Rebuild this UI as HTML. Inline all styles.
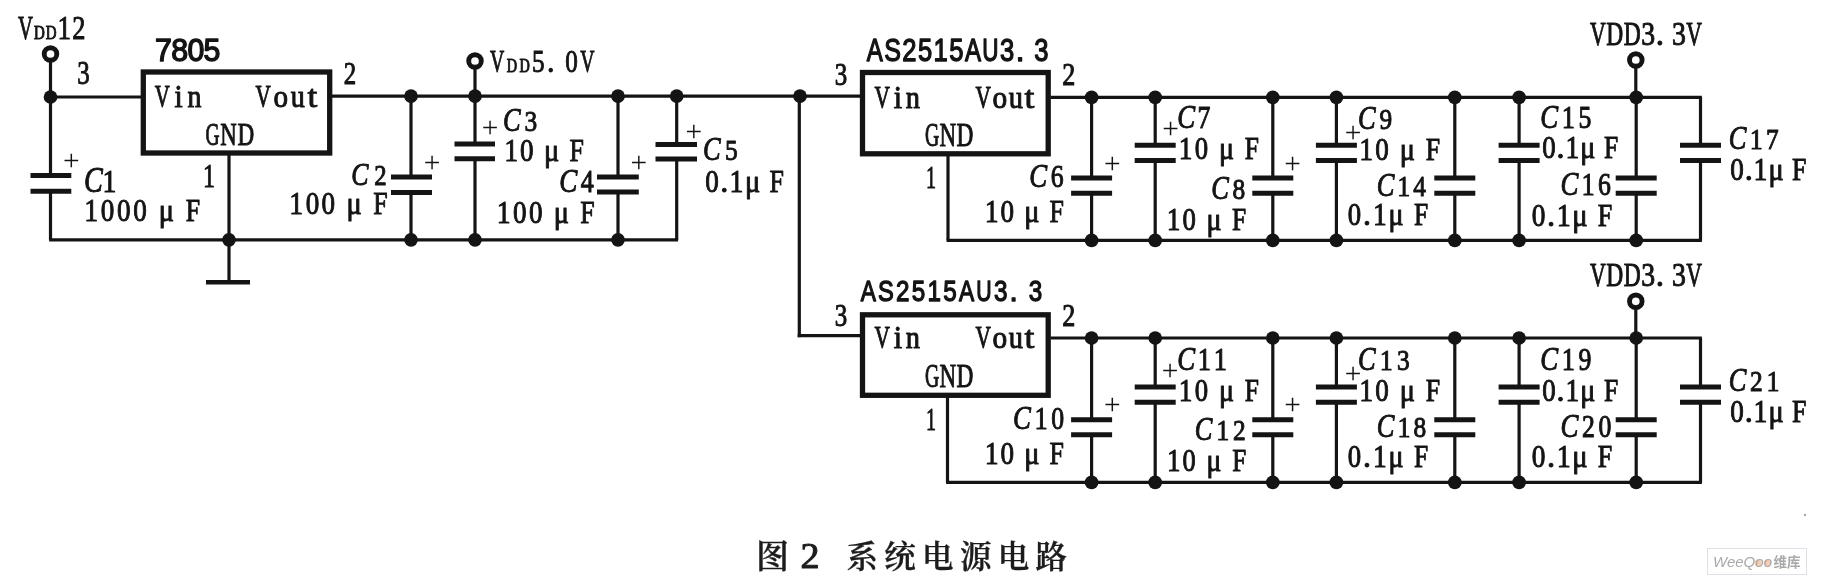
<!DOCTYPE html>
<html lang="zh-CN">
<head>
<meta charset="utf-8">
<title>图2 系统电源电路</title>
<style>
html,body{margin:0;padding:0;background:#fff;}
body{width:1826px;height:581px;overflow:hidden;}
svg{display:block;filter:blur(0.35px);}
svg text{font-family:"Liberation Serif", serif;fill:#141414;stroke:#141414;stroke-width:1.0;stroke-linejoin:round;white-space:pre;}
svg text.b{font-family:"Liberation Sans", "Noto Sans CJK SC", sans-serif;font-weight:normal;stroke-width:1.35;}
svg text.pl{stroke:none;}
svg text.cj{font-family:"Liberation Serif", "Noto Serif CJK SC", serif;font-weight:600;fill:#1c1c1c;stroke:#1c1c1c;stroke-width:0.35;}
svg text.wm{font-family:"Liberation Sans", "Noto Sans CJK SC", sans-serif;fill:#a9a9a9;stroke:none;}
</style>
</head>
<body>
<svg width="1826" height="581" viewBox="0 0 1826 581" stroke="#141414" fill="none">
<circle cx="50.5" cy="54" r="6.3" fill="#fff" stroke-width="4.9"/>
<line x1="50.5" y1="61" x2="50.5" y2="100" stroke-width="3.2" stroke-linecap="butt"/>
<line x1="50.5" y1="97" x2="50.5" y2="175.6" stroke-width="3.2" stroke-linecap="butt"/>
<line x1="50.5" y1="191.2" x2="50.5" y2="239.8" stroke-width="3.2" stroke-linecap="butt"/>
<line x1="30.5" y1="175.6" x2="71.3" y2="175.6" stroke-width="5" stroke-linecap="butt"/>
<line x1="30.5" y1="191.2" x2="71.3" y2="191.2" stroke-width="5" stroke-linecap="butt"/>
<circle cx="50.5" cy="97" r="6.85" fill="#141414" stroke="none"/>
<line x1="50.5" y1="97" x2="141" y2="97" stroke-width="3.2" stroke-linecap="butt"/>
<rect x="143.3" y="72" width="186.4" height="81" fill="none" stroke-width="5.3"/>
<line x1="332" y1="96.2" x2="860.5" y2="96.2" stroke-width="3.2" stroke-linecap="butt"/>
<line x1="49.1" y1="239.8" x2="678.1" y2="239.8" stroke-width="3.2" stroke-linecap="butt"/>
<line x1="229" y1="155" x2="229" y2="282" stroke-width="3.2" stroke-linecap="butt"/>
<line x1="206" y1="282.2" x2="250" y2="282.2" stroke-width="4.6" stroke-linecap="butt"/>
<circle cx="229" cy="239.8" r="6.85" fill="#141414" stroke="none"/>
<line x1="411" y1="96" x2="411" y2="177" stroke-width="3.2" stroke-linecap="butt"/>
<line x1="411" y1="192.6" x2="411" y2="239.8" stroke-width="3.2" stroke-linecap="butt"/>
<line x1="391" y1="177" x2="432" y2="177" stroke-width="5" stroke-linecap="butt"/>
<line x1="391" y1="192.6" x2="432" y2="192.6" stroke-width="5" stroke-linecap="butt"/>
<circle cx="411" cy="96.2" r="6.85" fill="#141414" stroke="none"/>
<circle cx="411" cy="239.8" r="6.85" fill="#141414" stroke="none"/>
<circle cx="475" cy="61" r="6.3" fill="#fff" stroke-width="4.9"/>
<line x1="475" y1="68" x2="475" y2="96" stroke-width="3.2" stroke-linecap="butt"/>
<line x1="475" y1="96" x2="475" y2="144" stroke-width="3.2" stroke-linecap="butt"/>
<line x1="475" y1="158.8" x2="475" y2="239.8" stroke-width="3.2" stroke-linecap="butt"/>
<line x1="454.5" y1="144" x2="495" y2="144" stroke-width="5" stroke-linecap="butt"/>
<line x1="454.5" y1="158.8" x2="495" y2="158.8" stroke-width="5" stroke-linecap="butt"/>
<circle cx="475" cy="96.2" r="6.85" fill="#141414" stroke="none"/>
<circle cx="475" cy="239.8" r="6.85" fill="#141414" stroke="none"/>
<line x1="618" y1="96" x2="618" y2="177" stroke-width="3.2" stroke-linecap="butt"/>
<line x1="618" y1="192" x2="618" y2="239.8" stroke-width="3.2" stroke-linecap="butt"/>
<line x1="597" y1="177" x2="638.8" y2="177" stroke-width="5" stroke-linecap="butt"/>
<line x1="597" y1="192" x2="638.8" y2="192" stroke-width="5" stroke-linecap="butt"/>
<circle cx="618" cy="96.2" r="6.85" fill="#141414" stroke="none"/>
<circle cx="618" cy="239.8" r="6.85" fill="#141414" stroke="none"/>
<line x1="676.7" y1="96" x2="676.7" y2="144.5" stroke-width="3.2" stroke-linecap="butt"/>
<line x1="676.7" y1="159" x2="676.7" y2="239.8" stroke-width="3.2" stroke-linecap="butt"/>
<line x1="655.5" y1="144.5" x2="697" y2="144.5" stroke-width="5" stroke-linecap="butt"/>
<line x1="655.5" y1="159" x2="697" y2="159" stroke-width="5" stroke-linecap="butt"/>
<circle cx="676.7" cy="96.2" r="6.85" fill="#141414" stroke="none"/>
<circle cx="800" cy="96.2" r="6.85" fill="#141414" stroke="none"/>
<line x1="799.3" y1="96" x2="799.3" y2="337.2" stroke-width="3.2" stroke-linecap="butt"/>
<line x1="797.7" y1="335.6" x2="860.5" y2="335.6" stroke-width="3.2" stroke-linecap="butt"/>
<rect x="862.5" y="72.5" width="185.7" height="81.3" fill="none" stroke-width="5.3"/>
<line x1="1050.5" y1="97.3" x2="1701.9" y2="97.3" stroke-width="3.2" stroke-linecap="butt"/>
<line x1="946.6" y1="240.4" x2="1701.9" y2="240.4" stroke-width="3.2" stroke-linecap="butt"/>
<line x1="948" y1="155.8" x2="948" y2="240.4" stroke-width="3.2" stroke-linecap="butt"/>
<line x1="1091.6" y1="97.3" x2="1091.6" y2="178.1" stroke-width="3.2" stroke-linecap="butt"/>
<line x1="1091.6" y1="193.2" x2="1091.6" y2="240.4" stroke-width="3.2" stroke-linecap="butt"/>
<line x1="1071.1" y1="178.1" x2="1112.1" y2="178.1" stroke-width="5" stroke-linecap="butt"/>
<line x1="1071.1" y1="193.2" x2="1112.1" y2="193.2" stroke-width="5" stroke-linecap="butt"/>
<circle cx="1091.6" cy="97.3" r="6.85" fill="#141414" stroke="none"/>
<circle cx="1091.6" cy="240.4" r="6.85" fill="#141414" stroke="none"/>
<line x1="1155.2" y1="97.3" x2="1155.2" y2="145.3" stroke-width="3.2" stroke-linecap="butt"/>
<line x1="1155.2" y1="160.6" x2="1155.2" y2="240.4" stroke-width="3.2" stroke-linecap="butt"/>
<line x1="1134.7" y1="145.3" x2="1175.7" y2="145.3" stroke-width="5" stroke-linecap="butt"/>
<line x1="1134.7" y1="160.6" x2="1175.7" y2="160.6" stroke-width="5" stroke-linecap="butt"/>
<circle cx="1155.2" cy="97.3" r="6.85" fill="#141414" stroke="none"/>
<circle cx="1155.2" cy="240.4" r="6.85" fill="#141414" stroke="none"/>
<line x1="1272.8" y1="97.3" x2="1272.8" y2="178.1" stroke-width="3.2" stroke-linecap="butt"/>
<line x1="1272.8" y1="193.2" x2="1272.8" y2="240.4" stroke-width="3.2" stroke-linecap="butt"/>
<line x1="1252.3" y1="178.1" x2="1293.3" y2="178.1" stroke-width="5" stroke-linecap="butt"/>
<line x1="1252.3" y1="193.2" x2="1293.3" y2="193.2" stroke-width="5" stroke-linecap="butt"/>
<circle cx="1272.8" cy="97.3" r="6.85" fill="#141414" stroke="none"/>
<circle cx="1272.8" cy="240.4" r="6.85" fill="#141414" stroke="none"/>
<line x1="1336.4" y1="97.3" x2="1336.4" y2="145.3" stroke-width="3.2" stroke-linecap="butt"/>
<line x1="1336.4" y1="160.6" x2="1336.4" y2="240.4" stroke-width="3.2" stroke-linecap="butt"/>
<line x1="1315.9" y1="145.3" x2="1356.9" y2="145.3" stroke-width="5" stroke-linecap="butt"/>
<line x1="1315.9" y1="160.6" x2="1356.9" y2="160.6" stroke-width="5" stroke-linecap="butt"/>
<circle cx="1336.4" cy="97.3" r="6.85" fill="#141414" stroke="none"/>
<circle cx="1336.4" cy="240.4" r="6.85" fill="#141414" stroke="none"/>
<line x1="1454.8" y1="97.3" x2="1454.8" y2="178.1" stroke-width="3.2" stroke-linecap="butt"/>
<line x1="1454.8" y1="193.2" x2="1454.8" y2="240.4" stroke-width="3.2" stroke-linecap="butt"/>
<line x1="1434.3" y1="178.1" x2="1475.3" y2="178.1" stroke-width="5" stroke-linecap="butt"/>
<line x1="1434.3" y1="193.2" x2="1475.3" y2="193.2" stroke-width="5" stroke-linecap="butt"/>
<circle cx="1454.8" cy="97.3" r="6.85" fill="#141414" stroke="none"/>
<circle cx="1454.8" cy="240.4" r="6.85" fill="#141414" stroke="none"/>
<line x1="1519.1" y1="97.3" x2="1519.1" y2="145.3" stroke-width="3.2" stroke-linecap="butt"/>
<line x1="1519.1" y1="160.6" x2="1519.1" y2="240.4" stroke-width="3.2" stroke-linecap="butt"/>
<line x1="1498.6" y1="145.3" x2="1539.6" y2="145.3" stroke-width="5" stroke-linecap="butt"/>
<line x1="1498.6" y1="160.6" x2="1539.6" y2="160.6" stroke-width="5" stroke-linecap="butt"/>
<circle cx="1519.1" cy="97.3" r="6.85" fill="#141414" stroke="none"/>
<circle cx="1519.1" cy="240.4" r="6.85" fill="#141414" stroke="none"/>
<line x1="1636.2" y1="97.3" x2="1636.2" y2="178.1" stroke-width="3.2" stroke-linecap="butt"/>
<line x1="1636.2" y1="193.2" x2="1636.2" y2="240.4" stroke-width="3.2" stroke-linecap="butt"/>
<line x1="1615.7" y1="178.1" x2="1656.7" y2="178.1" stroke-width="5" stroke-linecap="butt"/>
<line x1="1615.7" y1="193.2" x2="1656.7" y2="193.2" stroke-width="5" stroke-linecap="butt"/>
<circle cx="1636.2" cy="97.3" r="6.85" fill="#141414" stroke="none"/>
<circle cx="1636.2" cy="240.4" r="6.85" fill="#141414" stroke="none"/>
<line x1="1700.5" y1="97.3" x2="1700.5" y2="145.3" stroke-width="3.2" stroke-linecap="butt"/>
<line x1="1700.5" y1="160.6" x2="1700.5" y2="240.4" stroke-width="3.2" stroke-linecap="butt"/>
<line x1="1680" y1="145.3" x2="1721" y2="145.3" stroke-width="5" stroke-linecap="butt"/>
<line x1="1680" y1="160.6" x2="1721" y2="160.6" stroke-width="5" stroke-linecap="butt"/>
<circle cx="1635.8" cy="60" r="6.3" fill="#fff" stroke-width="4.9"/>
<line x1="1635.8" y1="67" x2="1635.8" y2="97.3" stroke-width="3.2" stroke-linecap="butt"/>
<rect x="862.5" y="314.8" width="185.7" height="80.5" fill="none" stroke-width="5.3"/>
<line x1="1050.5" y1="338" x2="1701.9" y2="338" stroke-width="3.2" stroke-linecap="butt"/>
<line x1="946.1" y1="482.4" x2="1701.9" y2="482.4" stroke-width="3.2" stroke-linecap="butt"/>
<line x1="947.5" y1="397.3" x2="947.5" y2="482.4" stroke-width="3.2" stroke-linecap="butt"/>
<line x1="1091.6" y1="338" x2="1091.6" y2="419.7" stroke-width="3.2" stroke-linecap="butt"/>
<line x1="1091.6" y1="434.8" x2="1091.6" y2="482.4" stroke-width="3.2" stroke-linecap="butt"/>
<line x1="1071.1" y1="419.7" x2="1112.1" y2="419.7" stroke-width="5" stroke-linecap="butt"/>
<line x1="1071.1" y1="434.8" x2="1112.1" y2="434.8" stroke-width="5" stroke-linecap="butt"/>
<circle cx="1091.6" cy="338" r="6.85" fill="#141414" stroke="none"/>
<circle cx="1091.6" cy="482.4" r="6.85" fill="#141414" stroke="none"/>
<line x1="1155.2" y1="338" x2="1155.2" y2="386.9" stroke-width="3.2" stroke-linecap="butt"/>
<line x1="1155.2" y1="402.2" x2="1155.2" y2="482.4" stroke-width="3.2" stroke-linecap="butt"/>
<line x1="1134.7" y1="386.9" x2="1175.7" y2="386.9" stroke-width="5" stroke-linecap="butt"/>
<line x1="1134.7" y1="402.2" x2="1175.7" y2="402.2" stroke-width="5" stroke-linecap="butt"/>
<circle cx="1155.2" cy="338" r="6.85" fill="#141414" stroke="none"/>
<circle cx="1155.2" cy="482.4" r="6.85" fill="#141414" stroke="none"/>
<line x1="1272.8" y1="338" x2="1272.8" y2="419.7" stroke-width="3.2" stroke-linecap="butt"/>
<line x1="1272.8" y1="434.8" x2="1272.8" y2="482.4" stroke-width="3.2" stroke-linecap="butt"/>
<line x1="1252.3" y1="419.7" x2="1293.3" y2="419.7" stroke-width="5" stroke-linecap="butt"/>
<line x1="1252.3" y1="434.8" x2="1293.3" y2="434.8" stroke-width="5" stroke-linecap="butt"/>
<circle cx="1272.8" cy="338" r="6.85" fill="#141414" stroke="none"/>
<circle cx="1272.8" cy="482.4" r="6.85" fill="#141414" stroke="none"/>
<line x1="1336.4" y1="338" x2="1336.4" y2="386.9" stroke-width="3.2" stroke-linecap="butt"/>
<line x1="1336.4" y1="402.2" x2="1336.4" y2="482.4" stroke-width="3.2" stroke-linecap="butt"/>
<line x1="1315.9" y1="386.9" x2="1356.9" y2="386.9" stroke-width="5" stroke-linecap="butt"/>
<line x1="1315.9" y1="402.2" x2="1356.9" y2="402.2" stroke-width="5" stroke-linecap="butt"/>
<circle cx="1336.4" cy="338" r="6.85" fill="#141414" stroke="none"/>
<circle cx="1336.4" cy="482.4" r="6.85" fill="#141414" stroke="none"/>
<line x1="1454.8" y1="338" x2="1454.8" y2="419.7" stroke-width="3.2" stroke-linecap="butt"/>
<line x1="1454.8" y1="434.8" x2="1454.8" y2="482.4" stroke-width="3.2" stroke-linecap="butt"/>
<line x1="1434.3" y1="419.7" x2="1475.3" y2="419.7" stroke-width="5" stroke-linecap="butt"/>
<line x1="1434.3" y1="434.8" x2="1475.3" y2="434.8" stroke-width="5" stroke-linecap="butt"/>
<circle cx="1454.8" cy="338" r="6.85" fill="#141414" stroke="none"/>
<circle cx="1454.8" cy="482.4" r="6.85" fill="#141414" stroke="none"/>
<line x1="1519.1" y1="338" x2="1519.1" y2="386.9" stroke-width="3.2" stroke-linecap="butt"/>
<line x1="1519.1" y1="402.2" x2="1519.1" y2="482.4" stroke-width="3.2" stroke-linecap="butt"/>
<line x1="1498.6" y1="386.9" x2="1539.6" y2="386.9" stroke-width="5" stroke-linecap="butt"/>
<line x1="1498.6" y1="402.2" x2="1539.6" y2="402.2" stroke-width="5" stroke-linecap="butt"/>
<circle cx="1519.1" cy="338" r="6.85" fill="#141414" stroke="none"/>
<circle cx="1519.1" cy="482.4" r="6.85" fill="#141414" stroke="none"/>
<line x1="1636.2" y1="338" x2="1636.2" y2="419.7" stroke-width="3.2" stroke-linecap="butt"/>
<line x1="1636.2" y1="434.8" x2="1636.2" y2="482.4" stroke-width="3.2" stroke-linecap="butt"/>
<line x1="1615.7" y1="419.7" x2="1656.7" y2="419.7" stroke-width="5" stroke-linecap="butt"/>
<line x1="1615.7" y1="434.8" x2="1656.7" y2="434.8" stroke-width="5" stroke-linecap="butt"/>
<circle cx="1636.2" cy="338" r="6.85" fill="#141414" stroke="none"/>
<circle cx="1636.2" cy="482.4" r="6.85" fill="#141414" stroke="none"/>
<line x1="1700.5" y1="338" x2="1700.5" y2="386.9" stroke-width="3.2" stroke-linecap="butt"/>
<line x1="1700.5" y1="402.2" x2="1700.5" y2="482.4" stroke-width="3.2" stroke-linecap="butt"/>
<line x1="1680" y1="386.9" x2="1721" y2="386.9" stroke-width="5" stroke-linecap="butt"/>
<line x1="1680" y1="402.2" x2="1721" y2="402.2" stroke-width="5" stroke-linecap="butt"/>
<circle cx="1635.8" cy="301.3" r="6.3" fill="#fff" stroke-width="4.9"/>
<line x1="1635.8" y1="308.3" x2="1635.8" y2="338" stroke-width="3.2" stroke-linecap="butt"/>
<text y="39.45" font-size="34.16"><tspan x="18.00" textLength="14.98" lengthAdjust="spacingAndGlyphs">V</tspan><tspan x="33.99" textLength="10.80" lengthAdjust="spacingAndGlyphs" font-size="19.13">D</tspan><tspan x="45.80" textLength="10.80" lengthAdjust="spacingAndGlyphs" font-size="19.13">D</tspan><tspan x="57.61" textLength="13.51" lengthAdjust="spacingAndGlyphs">1</tspan><tspan x="72.14" textLength="13.20" lengthAdjust="spacingAndGlyphs">2</tspan></text>
<text y="83.57" font-size="33.00"><tspan x="77.33" textLength="12.44" lengthAdjust="spacingAndGlyphs">3</tspan></text>
<text class="b" style="stroke-width:1.45" y="61.16" font-size="32.19"><tspan x="155.10" textLength="16.88" lengthAdjust="spacingAndGlyphs">7</tspan><tspan x="171.28" textLength="16.88" lengthAdjust="spacingAndGlyphs">8</tspan><tspan x="187.45" textLength="16.88" lengthAdjust="spacingAndGlyphs">0</tspan><tspan x="203.62" textLength="16.88" lengthAdjust="spacingAndGlyphs">5</tspan></text>
<text y="107.10" font-size="31.55"><tspan x="154.70" textLength="15.04" lengthAdjust="spacingAndGlyphs">V</tspan><tspan x="174.60" textLength="8.15" lengthAdjust="spacingAndGlyphs">i</tspan><tspan x="187.62" textLength="13.88" lengthAdjust="spacingAndGlyphs">n</tspan></text>
<text y="107.39" font-size="31.98"><tspan x="255.50" textLength="15.24" lengthAdjust="spacingAndGlyphs">V</tspan><tspan x="273.49" textLength="14.55" lengthAdjust="spacingAndGlyphs">o</tspan><tspan x="290.79" textLength="14.07" lengthAdjust="spacingAndGlyphs">u</tspan><tspan x="307.61" textLength="9.77" lengthAdjust="spacingAndGlyphs">t</tspan></text>
<text y="144.58" font-size="32.56"><tspan x="205.39" textLength="14.11" lengthAdjust="spacingAndGlyphs">G</tspan><tspan x="220.32" textLength="16.46" lengthAdjust="spacingAndGlyphs">N</tspan><tspan x="237.60" textLength="16.70" lengthAdjust="spacingAndGlyphs">D</tspan></text>
<text y="84.10" font-size="31.55"><tspan x="343.72" textLength="12.44" lengthAdjust="spacingAndGlyphs">2</tspan></text>
<text y="191.68" font-size="32.27"><tspan x="83.98" textLength="18.77" lengthAdjust="spacingAndGlyphs" font-style="italic" font-size="35.18">C</tspan><tspan x="102.52" textLength="13.88" lengthAdjust="spacingAndGlyphs">1</tspan></text>
<text y="220.58" font-size="32.27"><tspan x="84.33" textLength="13.88" lengthAdjust="spacingAndGlyphs">1</tspan><tspan x="100.85" textLength="13.55" lengthAdjust="spacingAndGlyphs">0</tspan><tspan x="117.04" textLength="13.55" lengthAdjust="spacingAndGlyphs">0</tspan><tspan x="133.23" textLength="13.55" lengthAdjust="spacingAndGlyphs">0</tspan> <tspan x="158.67" textLength="15.23" lengthAdjust="spacingAndGlyphs">μ</tspan> <tspan x="185.78" textLength="14.36" lengthAdjust="spacingAndGlyphs">F</tspan></text>
<text y="186.57" font-size="32.85"><tspan x="203.12" textLength="12.00" lengthAdjust="spacingAndGlyphs">1</tspan></text>
<text y="184.63" font-size="29.51"><tspan x="351.29" textLength="17.16" lengthAdjust="spacingAndGlyphs" font-style="italic" font-size="32.17">C</tspan><tspan x="374.27" textLength="12.39" lengthAdjust="spacingAndGlyphs">2</tspan></text>
<text y="214.08" font-size="32.27"><tspan x="289.33" textLength="13.88" lengthAdjust="spacingAndGlyphs">1</tspan><tspan x="305.63" textLength="13.55" lengthAdjust="spacingAndGlyphs">0</tspan><tspan x="321.60" textLength="13.55" lengthAdjust="spacingAndGlyphs">0</tspan> <tspan x="346.61" textLength="15.23" lengthAdjust="spacingAndGlyphs">μ</tspan> <tspan x="373.28" textLength="14.36" lengthAdjust="spacingAndGlyphs">F</tspan></text>
<text y="71.78" font-size="32.56"><tspan x="490.10" textLength="14.28" lengthAdjust="spacingAndGlyphs">V</tspan><tspan x="506.74" textLength="10.30" lengthAdjust="spacingAndGlyphs" font-size="18.24">D</tspan><tspan x="519.40" textLength="10.30" lengthAdjust="spacingAndGlyphs" font-size="18.24">D</tspan><tspan x="532.05" textLength="12.58" lengthAdjust="spacingAndGlyphs">5</tspan><tspan x="547.00" textLength="7.49" lengthAdjust="spacingAndGlyphs">.</tspan> <tspan x="565.35" textLength="12.58" lengthAdjust="spacingAndGlyphs">0</tspan><tspan x="580.29" textLength="14.28" lengthAdjust="spacingAndGlyphs">V</tspan></text>
<text y="131.12" font-size="30.24"><tspan x="503.06" textLength="17.59" lengthAdjust="spacingAndGlyphs" font-style="italic" font-size="32.96">C</tspan><tspan x="524.59" textLength="12.70" lengthAdjust="spacingAndGlyphs">3</tspan></text>
<text y="160.58" font-size="32.27"><tspan x="504.33" textLength="13.88" lengthAdjust="spacingAndGlyphs">1</tspan><tspan x="520.08" textLength="13.55" lengthAdjust="spacingAndGlyphs">0</tspan> <tspan x="544.00" textLength="15.23" lengthAdjust="spacingAndGlyphs">μ</tspan> <tspan x="569.58" textLength="14.36" lengthAdjust="spacingAndGlyphs">F</tspan></text>
<text y="191.60" font-size="30.96"><tspan x="559.23" textLength="18.01" lengthAdjust="spacingAndGlyphs" font-style="italic" font-size="33.75">C</tspan><tspan x="580.70" textLength="13.01" lengthAdjust="spacingAndGlyphs">4</tspan></text>
<text y="222.58" font-size="32.27"><tspan x="496.83" textLength="13.88" lengthAdjust="spacingAndGlyphs">1</tspan><tspan x="513.04" textLength="13.55" lengthAdjust="spacingAndGlyphs">0</tspan><tspan x="528.93" textLength="13.55" lengthAdjust="spacingAndGlyphs">0</tspan> <tspan x="553.77" textLength="15.23" lengthAdjust="spacingAndGlyphs">μ</tspan> <tspan x="580.28" textLength="14.36" lengthAdjust="spacingAndGlyphs">F</tspan></text>
<text y="160.12" font-size="30.24"><tspan x="703.06" textLength="17.59" lengthAdjust="spacingAndGlyphs" font-style="italic" font-size="32.96">C</tspan><tspan x="725.09" textLength="12.70" lengthAdjust="spacingAndGlyphs">5</tspan></text>
<text y="191.58" font-size="32.27"><tspan x="705.15" textLength="13.55" lengthAdjust="spacingAndGlyphs">0</tspan><tspan x="720.13">.</tspan><tspan x="729.61" textLength="13.88" lengthAdjust="spacingAndGlyphs">1</tspan><tspan x="744.91" textLength="15.23" lengthAdjust="spacingAndGlyphs">μ</tspan> <tspan x="769.58" textLength="14.36" lengthAdjust="spacingAndGlyphs">F</tspan></text>
<text y="84.61" font-size="30.82"><tspan x="834.83" textLength="12.44" lengthAdjust="spacingAndGlyphs">3</tspan></text>
<text class="b" y="61.43" font-size="31.22"><tspan x="866.67" textLength="16.03" lengthAdjust="spacingAndGlyphs">A</tspan><tspan x="884.14" textLength="16.66" lengthAdjust="spacingAndGlyphs">S</tspan><tspan x="902.22" textLength="14.24" lengthAdjust="spacingAndGlyphs">2</tspan><tspan x="917.88" textLength="14.24" lengthAdjust="spacingAndGlyphs">5</tspan><tspan x="933.55" textLength="14.24" lengthAdjust="spacingAndGlyphs">1</tspan><tspan x="949.21" textLength="14.24" lengthAdjust="spacingAndGlyphs">5</tspan><tspan x="964.88" textLength="16.03" lengthAdjust="spacingAndGlyphs">A</tspan><tspan x="982.34" textLength="16.23" lengthAdjust="spacingAndGlyphs">U</tspan><tspan x="1000.00" textLength="14.24" lengthAdjust="spacingAndGlyphs">3</tspan><tspan x="1015.66">.</tspan> <tspan x="1034.13" textLength="14.24" lengthAdjust="spacingAndGlyphs">3</tspan></text>
<text y="107.58" font-size="32.27"><tspan x="874.50" textLength="15.38" lengthAdjust="spacingAndGlyphs">V</tspan><tspan x="893.67" textLength="8.34" lengthAdjust="spacingAndGlyphs">i</tspan><tspan x="905.80" textLength="14.20" lengthAdjust="spacingAndGlyphs">n</tspan></text>
<text y="107.58" font-size="32.27"><tspan x="975.50" textLength="15.38" lengthAdjust="spacingAndGlyphs">V</tspan><tspan x="992.47" textLength="14.68" lengthAdjust="spacingAndGlyphs">o</tspan><tspan x="1008.73" textLength="14.20" lengthAdjust="spacingAndGlyphs">u</tspan><tspan x="1024.52" textLength="9.86" lengthAdjust="spacingAndGlyphs">t</tspan></text>
<text y="145.57" font-size="32.85"><tspan x="924.88" textLength="14.24" lengthAdjust="spacingAndGlyphs">G</tspan><tspan x="939.49" textLength="16.61" lengthAdjust="spacingAndGlyphs">N</tspan><tspan x="956.46" textLength="16.85" lengthAdjust="spacingAndGlyphs">D</tspan></text>
<text y="84.61" font-size="30.82"><tspan x="1062.19" textLength="13.04" lengthAdjust="spacingAndGlyphs">2</tspan></text>
<text y="188.20" font-size="31.26"><tspan x="925.94" textLength="10.00" lengthAdjust="spacingAndGlyphs">1</tspan></text>
<text y="187.41" font-size="30.67"><tspan x="1029.25" textLength="17.84" lengthAdjust="spacingAndGlyphs" font-style="italic" font-size="33.43">C</tspan><tspan x="1050.82" textLength="12.88" lengthAdjust="spacingAndGlyphs">6</tspan></text>
<text y="222.08" font-size="32.27"><tspan x="984.83" textLength="13.88" lengthAdjust="spacingAndGlyphs">1</tspan><tspan x="1000.48" textLength="13.55" lengthAdjust="spacingAndGlyphs">0</tspan> <tspan x="1024.20" textLength="15.23" lengthAdjust="spacingAndGlyphs">μ</tspan> <tspan x="1049.58" textLength="14.36" lengthAdjust="spacingAndGlyphs">F</tspan></text>
<text y="127.91" font-size="30.67"><tspan x="1177.25" textLength="17.84" lengthAdjust="spacingAndGlyphs" font-style="italic" font-size="33.43">C</tspan><tspan x="1197.52" textLength="12.88" lengthAdjust="spacingAndGlyphs">7</tspan></text>
<text y="159.29" font-size="31.84"><tspan x="1178.86" textLength="13.69" lengthAdjust="spacingAndGlyphs">1</tspan><tspan x="1194.71" textLength="13.37" lengthAdjust="spacingAndGlyphs">0</tspan> <tspan x="1218.91" textLength="15.02" lengthAdjust="spacingAndGlyphs">μ</tspan> <tspan x="1244.77" textLength="14.17" lengthAdjust="spacingAndGlyphs">F</tspan></text>
<text y="199.12" font-size="30.24"><tspan x="1211.26" textLength="17.59" lengthAdjust="spacingAndGlyphs" font-style="italic" font-size="32.96">C</tspan><tspan x="1232.59" textLength="12.70" lengthAdjust="spacingAndGlyphs">8</tspan></text>
<text y="230.09" font-size="31.84"><tspan x="1166.86" textLength="13.69" lengthAdjust="spacingAndGlyphs">1</tspan><tspan x="1182.55" textLength="13.37" lengthAdjust="spacingAndGlyphs">0</tspan> <tspan x="1206.43" textLength="15.02" lengthAdjust="spacingAndGlyphs">μ</tspan> <tspan x="1231.97" textLength="14.17" lengthAdjust="spacingAndGlyphs">F</tspan></text>
<text y="128.62" font-size="30.24"><tspan x="1358.06" textLength="17.59" lengthAdjust="spacingAndGlyphs" font-style="italic" font-size="32.96">C</tspan><tspan x="1379.59" textLength="12.70" lengthAdjust="spacingAndGlyphs">9</tspan></text>
<text y="159.58" font-size="32.27"><tspan x="1359.33" textLength="13.88" lengthAdjust="spacingAndGlyphs">1</tspan><tspan x="1375.32" textLength="13.55" lengthAdjust="spacingAndGlyphs">0</tspan> <tspan x="1399.72" textLength="15.23" lengthAdjust="spacingAndGlyphs">μ</tspan> <tspan x="1425.78" textLength="14.36" lengthAdjust="spacingAndGlyphs">F</tspan></text>
<text y="195.62" font-size="30.24"><tspan x="1376.76" textLength="17.59" lengthAdjust="spacingAndGlyphs" font-style="italic" font-size="32.96">C</tspan><tspan x="1397.27" textLength="13.00" lengthAdjust="spacingAndGlyphs">1</tspan><tspan x="1413.20" textLength="12.70" lengthAdjust="spacingAndGlyphs">4</tspan></text>
<text y="225.09" font-size="31.84"><tspan x="1347.66" textLength="13.37" lengthAdjust="spacingAndGlyphs">0</tspan><tspan x="1362.98">.</tspan><tspan x="1372.89" textLength="13.69" lengthAdjust="spacingAndGlyphs">1</tspan><tspan x="1388.53" textLength="15.02" lengthAdjust="spacingAndGlyphs">μ</tspan> <tspan x="1413.97" textLength="14.17" lengthAdjust="spacingAndGlyphs">F</tspan></text>
<text y="45.07" font-size="33.00"><tspan x="1590.00" textLength="15.73" lengthAdjust="spacingAndGlyphs">V</tspan><tspan x="1606.31" textLength="16.92" lengthAdjust="spacingAndGlyphs">D</tspan><tspan x="1623.80" textLength="16.92" lengthAdjust="spacingAndGlyphs">D</tspan><tspan x="1641.30" textLength="13.86" lengthAdjust="spacingAndGlyphs">3</tspan><tspan x="1655.74">.</tspan> <tspan x="1671.91" textLength="13.86" lengthAdjust="spacingAndGlyphs">3</tspan><tspan x="1686.35" textLength="15.73" lengthAdjust="spacingAndGlyphs">V</tspan></text>
<text y="128.41" font-size="30.67"><tspan x="1540.25" textLength="17.84" lengthAdjust="spacingAndGlyphs" font-style="italic" font-size="33.43">C</tspan><tspan x="1561.66" textLength="13.19" lengthAdjust="spacingAndGlyphs">1</tspan><tspan x="1578.42" textLength="12.88" lengthAdjust="spacingAndGlyphs">5</tspan></text>
<text y="158.39" font-size="31.98"><tspan x="1542.16" textLength="13.43" lengthAdjust="spacingAndGlyphs">0</tspan><tspan x="1556.58">.</tspan><tspan x="1565.56" textLength="13.75" lengthAdjust="spacingAndGlyphs">1</tspan><tspan x="1580.29" textLength="15.09" lengthAdjust="spacingAndGlyphs">μ</tspan> <tspan x="1603.91" textLength="14.23" lengthAdjust="spacingAndGlyphs">F</tspan></text>
<text y="195.41" font-size="30.67"><tspan x="1560.55" textLength="17.84" lengthAdjust="spacingAndGlyphs" font-style="italic" font-size="33.43">C</tspan><tspan x="1581.61" textLength="13.19" lengthAdjust="spacingAndGlyphs">1</tspan><tspan x="1598.02" textLength="12.88" lengthAdjust="spacingAndGlyphs">6</tspan></text>
<text y="225.58" font-size="32.56"><tspan x="1531.65" textLength="13.68" lengthAdjust="spacingAndGlyphs">0</tspan><tspan x="1546.95">.</tspan><tspan x="1556.73" textLength="14.00" lengthAdjust="spacingAndGlyphs">1</tspan><tspan x="1572.36" textLength="15.36" lengthAdjust="spacingAndGlyphs">μ</tspan> <tspan x="1597.66" textLength="14.49" lengthAdjust="spacingAndGlyphs">F</tspan></text>
<text y="149.12" font-size="30.24"><tspan x="1728.76" textLength="17.59" lengthAdjust="spacingAndGlyphs" font-style="italic" font-size="32.96">C</tspan><tspan x="1749.67" textLength="13.00" lengthAdjust="spacingAndGlyphs">1</tspan><tspan x="1766.00" textLength="12.70" lengthAdjust="spacingAndGlyphs">7</tspan></text>
<text y="180.38" font-size="32.27"><tspan x="1730.15" textLength="13.55" lengthAdjust="spacingAndGlyphs">0</tspan><tspan x="1744.63">.</tspan><tspan x="1753.61" textLength="13.88" lengthAdjust="spacingAndGlyphs">1</tspan><tspan x="1768.41" textLength="15.23" lengthAdjust="spacingAndGlyphs">μ</tspan> <tspan x="1792.08" textLength="14.36" lengthAdjust="spacingAndGlyphs">F</tspan></text>
<text y="326.21" font-size="30.82"><tspan x="834.83" textLength="12.44" lengthAdjust="spacingAndGlyphs">3</tspan></text>
<text class="b" y="300.85" font-size="29.55"><tspan x="860.67" textLength="15.18" lengthAdjust="spacingAndGlyphs">A</tspan><tspan x="878.08" textLength="15.77" lengthAdjust="spacingAndGlyphs">S</tspan><tspan x="896.08" textLength="13.48" lengthAdjust="spacingAndGlyphs">2</tspan><tspan x="911.78" textLength="13.48" lengthAdjust="spacingAndGlyphs">5</tspan><tspan x="927.48" textLength="13.48" lengthAdjust="spacingAndGlyphs">1</tspan><tspan x="943.19" textLength="13.48" lengthAdjust="spacingAndGlyphs">5</tspan><tspan x="958.89" textLength="15.18" lengthAdjust="spacingAndGlyphs">A</tspan><tspan x="976.30" textLength="15.36" lengthAdjust="spacingAndGlyphs">U</tspan><tspan x="993.89" textLength="13.48" lengthAdjust="spacingAndGlyphs">3</tspan><tspan x="1009.60">.</tspan> <tspan x="1028.83" textLength="13.48" lengthAdjust="spacingAndGlyphs">3</tspan></text>
<text y="347.88" font-size="32.27"><tspan x="874.50" textLength="15.38" lengthAdjust="spacingAndGlyphs">V</tspan><tspan x="893.67" textLength="8.34" lengthAdjust="spacingAndGlyphs">i</tspan><tspan x="905.80" textLength="14.20" lengthAdjust="spacingAndGlyphs">n</tspan></text>
<text y="347.88" font-size="32.27"><tspan x="975.50" textLength="15.38" lengthAdjust="spacingAndGlyphs">V</tspan><tspan x="992.47" textLength="14.68" lengthAdjust="spacingAndGlyphs">o</tspan><tspan x="1008.73" textLength="14.20" lengthAdjust="spacingAndGlyphs">u</tspan><tspan x="1024.52" textLength="9.86" lengthAdjust="spacingAndGlyphs">t</tspan></text>
<text y="387.17" font-size="32.85"><tspan x="924.88" textLength="14.24" lengthAdjust="spacingAndGlyphs">G</tspan><tspan x="939.49" textLength="16.61" lengthAdjust="spacingAndGlyphs">N</tspan><tspan x="956.46" textLength="16.85" lengthAdjust="spacingAndGlyphs">D</tspan></text>
<text y="326.21" font-size="30.82"><tspan x="1062.19" textLength="13.04" lengthAdjust="spacingAndGlyphs">2</tspan></text>
<text y="429.80" font-size="31.26"><tspan x="925.94" textLength="10.00" lengthAdjust="spacingAndGlyphs">1</tspan></text>
<text y="429.01" font-size="30.67"><tspan x="1013.05" textLength="17.84" lengthAdjust="spacingAndGlyphs" font-style="italic" font-size="33.43">C</tspan><tspan x="1034.46" textLength="13.19" lengthAdjust="spacingAndGlyphs">1</tspan><tspan x="1051.22" textLength="12.88" lengthAdjust="spacingAndGlyphs">0</tspan></text>
<text y="463.68" font-size="32.27"><tspan x="984.83" textLength="13.88" lengthAdjust="spacingAndGlyphs">1</tspan><tspan x="1000.48" textLength="13.55" lengthAdjust="spacingAndGlyphs">0</tspan> <tspan x="1024.20" textLength="15.23" lengthAdjust="spacingAndGlyphs">μ</tspan> <tspan x="1049.58" textLength="14.36" lengthAdjust="spacingAndGlyphs">F</tspan></text>
<text y="369.51" font-size="30.67"><tspan x="1177.25" textLength="17.84" lengthAdjust="spacingAndGlyphs" font-style="italic" font-size="33.43">C</tspan><tspan x="1197.87" textLength="13.19" lengthAdjust="spacingAndGlyphs">1</tspan><tspan x="1213.85" textLength="13.19" lengthAdjust="spacingAndGlyphs">1</tspan></text>
<text y="400.89" font-size="31.84"><tspan x="1178.86" textLength="13.69" lengthAdjust="spacingAndGlyphs">1</tspan><tspan x="1194.71" textLength="13.37" lengthAdjust="spacingAndGlyphs">0</tspan> <tspan x="1218.91" textLength="15.02" lengthAdjust="spacingAndGlyphs">μ</tspan> <tspan x="1244.77" textLength="14.17" lengthAdjust="spacingAndGlyphs">F</tspan></text>
<text y="439.92" font-size="30.24"><tspan x="1194.76" textLength="17.59" lengthAdjust="spacingAndGlyphs" font-style="italic" font-size="32.96">C</tspan><tspan x="1216.17" textLength="13.00" lengthAdjust="spacingAndGlyphs">1</tspan><tspan x="1232.99" textLength="12.70" lengthAdjust="spacingAndGlyphs">2</tspan></text>
<text y="470.90" font-size="31.40"><tspan x="1166.89" textLength="13.50" lengthAdjust="spacingAndGlyphs">1</tspan><tspan x="1182.57" textLength="13.19" lengthAdjust="spacingAndGlyphs">0</tspan> <tspan x="1206.55" textLength="14.81" lengthAdjust="spacingAndGlyphs">μ</tspan> <tspan x="1232.15" textLength="13.97" lengthAdjust="spacingAndGlyphs">F</tspan></text>
<text y="370.22" font-size="30.24"><tspan x="1358.06" textLength="17.59" lengthAdjust="spacingAndGlyphs" font-style="italic" font-size="32.96">C</tspan><tspan x="1379.87" textLength="13.00" lengthAdjust="spacingAndGlyphs">1</tspan><tspan x="1397.09" textLength="12.70" lengthAdjust="spacingAndGlyphs">3</tspan></text>
<text y="401.18" font-size="32.27"><tspan x="1359.33" textLength="13.88" lengthAdjust="spacingAndGlyphs">1</tspan><tspan x="1375.32" textLength="13.55" lengthAdjust="spacingAndGlyphs">0</tspan> <tspan x="1399.72" textLength="15.23" lengthAdjust="spacingAndGlyphs">μ</tspan> <tspan x="1425.78" textLength="14.36" lengthAdjust="spacingAndGlyphs">F</tspan></text>
<text y="437.22" font-size="30.24"><tspan x="1376.76" textLength="17.59" lengthAdjust="spacingAndGlyphs" font-style="italic" font-size="32.96">C</tspan><tspan x="1397.47" textLength="13.00" lengthAdjust="spacingAndGlyphs">1</tspan><tspan x="1413.59" textLength="12.70" lengthAdjust="spacingAndGlyphs">8</tspan></text>
<text y="466.69" font-size="31.84"><tspan x="1347.66" textLength="13.37" lengthAdjust="spacingAndGlyphs">0</tspan><tspan x="1362.98">.</tspan><tspan x="1372.89" textLength="13.69" lengthAdjust="spacingAndGlyphs">1</tspan><tspan x="1388.53" textLength="15.02" lengthAdjust="spacingAndGlyphs">μ</tspan> <tspan x="1413.97" textLength="14.17" lengthAdjust="spacingAndGlyphs">F</tspan></text>
<text y="285.87" font-size="33.00"><tspan x="1590.00" textLength="15.73" lengthAdjust="spacingAndGlyphs">V</tspan><tspan x="1606.31" textLength="16.92" lengthAdjust="spacingAndGlyphs">D</tspan><tspan x="1623.80" textLength="16.92" lengthAdjust="spacingAndGlyphs">D</tspan><tspan x="1641.30" textLength="13.86" lengthAdjust="spacingAndGlyphs">3</tspan><tspan x="1655.74">.</tspan> <tspan x="1671.91" textLength="13.86" lengthAdjust="spacingAndGlyphs">3</tspan><tspan x="1686.35" textLength="15.73" lengthAdjust="spacingAndGlyphs">V</tspan></text>
<text y="370.01" font-size="30.67"><tspan x="1540.25" textLength="17.84" lengthAdjust="spacingAndGlyphs" font-style="italic" font-size="33.43">C</tspan><tspan x="1561.66" textLength="13.19" lengthAdjust="spacingAndGlyphs">1</tspan><tspan x="1578.42" textLength="12.88" lengthAdjust="spacingAndGlyphs">9</tspan></text>
<text y="400.89" font-size="31.98"><tspan x="1542.16" textLength="13.43" lengthAdjust="spacingAndGlyphs">0</tspan><tspan x="1556.58">.</tspan><tspan x="1565.56" textLength="13.75" lengthAdjust="spacingAndGlyphs">1</tspan><tspan x="1580.29" textLength="15.09" lengthAdjust="spacingAndGlyphs">μ</tspan> <tspan x="1603.91" textLength="14.23" lengthAdjust="spacingAndGlyphs">F</tspan></text>
<text y="437.01" font-size="30.67"><tspan x="1560.55" textLength="17.84" lengthAdjust="spacingAndGlyphs" font-style="italic" font-size="33.43">C</tspan><tspan x="1581.96" textLength="12.88" lengthAdjust="spacingAndGlyphs">2</tspan><tspan x="1598.42" textLength="12.88" lengthAdjust="spacingAndGlyphs">0</tspan></text>
<text y="467.18" font-size="32.56"><tspan x="1531.65" textLength="13.68" lengthAdjust="spacingAndGlyphs">0</tspan><tspan x="1546.95">.</tspan><tspan x="1556.73" textLength="14.00" lengthAdjust="spacingAndGlyphs">1</tspan><tspan x="1572.36" textLength="15.36" lengthAdjust="spacingAndGlyphs">μ</tspan> <tspan x="1597.66" textLength="14.49" lengthAdjust="spacingAndGlyphs">F</tspan></text>
<text y="391.12" font-size="30.24"><tspan x="1728.76" textLength="17.59" lengthAdjust="spacingAndGlyphs" font-style="italic" font-size="32.96">C</tspan><tspan x="1750.08" textLength="12.70" lengthAdjust="spacingAndGlyphs">2</tspan><tspan x="1766.52" textLength="13.00" lengthAdjust="spacingAndGlyphs">1</tspan></text>
<text y="421.98" font-size="32.27"><tspan x="1730.15" textLength="13.55" lengthAdjust="spacingAndGlyphs">0</tspan><tspan x="1744.63">.</tspan><tspan x="1753.61" textLength="13.88" lengthAdjust="spacingAndGlyphs">1</tspan><tspan x="1768.41" textLength="15.23" lengthAdjust="spacingAndGlyphs">μ</tspan> <tspan x="1792.08" textLength="14.36" lengthAdjust="spacingAndGlyphs">F</tspan></text>
<text x="63.02" y="170.39" font-size="29.44" class="pl">+</text>
<text x="423.72" y="171.89" font-size="29.44" class="pl">+</text>
<text x="481.72" y="137.39" font-size="29.44" class="pl">+</text>
<text x="630.52" y="172.39" font-size="29.44" class="pl">+</text>
<text x="685.52" y="140.89" font-size="29.44" class="pl">+</text>
<text x="1104.12" y="172.89" font-size="29.44" class="pl">+</text>
<text x="1162.22" y="138.39" font-size="29.44" class="pl">+</text>
<text x="1284.22" y="172.89" font-size="29.44" class="pl">+</text>
<text x="1344.72" y="141.89" font-size="29.44" class="pl">+</text>
<text x="1103.92" y="414.39" font-size="29.44" class="pl">+</text>
<text x="1161.72" y="379.89" font-size="29.44" class="pl">+</text>
<text x="1284.22" y="414.49" font-size="29.44" class="pl">+</text>
<text x="1344.72" y="382.89" font-size="29.44" class="pl">+</text>
<text class="cj" y="567.5" font-size="31.5"><tspan x="756" y="568" font-size="33">图</tspan> <tspan x="800.5" font-size="36" style="font-weight:400;stroke-width:1.0" textLength="19" lengthAdjust="spacingAndGlyphs">2</tspan> <tspan x="846.5" y="567.5" letter-spacing="6.3">系统电源电路</tspan></text>
<rect x="1707.5" y="548.5" width="99" height="26" fill="#fff" stroke="#dfe1e8" stroke-width="1"/><ellipse cx="1757.9" cy="563" rx="3.3" ry="3.7" fill="#f7cdb1" stroke="none"/><ellipse cx="1767" cy="563" rx="3.3" ry="3.7" fill="#f7cdb1" stroke="none"/><text x="1713" y="566.6" class="wm" font-size="15" font-style="italic" textLength="59" lengthAdjust="spacingAndGlyphs">WeeQoo</text><text x="1773.5" y="567" class="wm" font-size="13.5" font-weight="bold">维库</text><circle cx="1805" cy="515" r="1.2" fill="#aaa" stroke="none"/>
</svg>
</body>
</html>
